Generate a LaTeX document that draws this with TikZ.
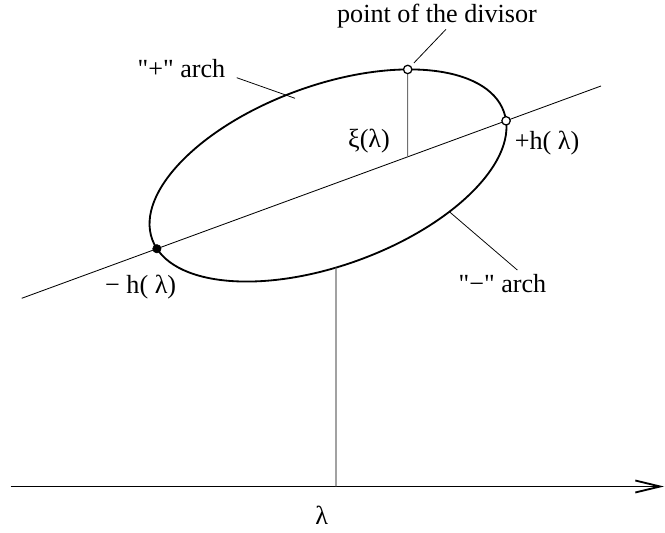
\documentclass[tikz,border=0pt]{standalone}
\usepackage{fontspec}
\setmainfont{Liberation Serif}
\newfontfamily\archfont{Liberation Serif}
\usepackage{xcolor}
\usepackage{tikz}
\usetikzlibrary{arrows.meta,intersections,calc}
\definecolor{ArchInk}{HTML}{000000}
\definecolor{ArchGray}{HTML}{707070}
\tikzset{archcurve/.style={draw=ArchInk, line width=1.3pt}, archchord/.style={draw=ArchInk, line width=0.6pt}, archleader/.style={draw=ArchInk, line width=0.55pt}, archdrop/.style={draw=ArchGray, line width=0.75pt}, archaxis/.style={draw=ArchInk, line width=1.3pt, -{Straight Barb[length=6.2mm,width=3mm]}}, archopen/.style={circle, draw=ArchInk, fill=white, line width=0.9pt, inner sep=0pt, minimum size=2.1mm}, archfull/.style={circle, draw=ArchInk, fill=ArchInk, inner sep=0pt, minimum size=2.1mm}, archlabel/.style={inner sep=0pt, font=\archfont\fontsize{18.6}{22}\selectfont}}

\begin{document}
\begin{tikzpicture}[x=0.025cm, y=0.025cm]
\useasboundingbox (0,0) rectangle (665,533);
\coordinate (c) at (328,357.5);
\coordinate (chordL) at (21.7,234.7);
\coordinate (chordR) at (601,447);
\coordinate (axstart) at (10.6,46.5);
\coordinate (axend) at (664,46.5);
\coordinate (lamfoot) at (336,46.5);
\draw[archchord, name path=chord] (chordL) -- (chordR);
\draw[archcurve, name path=ell, rotate around={20:(c)}] (c) ellipse [x radius=4.675cm, y radius=2.25cm];
\path[name path=vtop] (407.7,350) -- (407.7,533);
\path[name path=vbot] (336,46.5) -- (336,300);
\path[name intersections={of=ell and vtop, by=ptop}];
\path[name intersections={of=chord and vtop, by=pfoot}];
\path[name intersections={of=ell and vbot, by=pbot}];
\path[name intersections={of=ell and chord, sort by=chord, by={hm,hp}}];
\draw[archaxis] (axstart) -- (axend);
\draw[archdrop] (ptop) -- (pfoot);
\draw[archdrop] (pbot) -- (lamfoot);
\node[archopen] (divpt) at (ptop) {};
\node[archopen] (hplus) at (hp) {};
\node[archfull] (hminus) at (hm) {};
\node[archlabel, anchor=base] (divlbl) at (437,510.3) {point of the divisor};
\node[archlabel, anchor=base] (plusarch) at (181.5,455) {"+" arch};
\node[archlabel] (xilbl) at (369,391.5) {ξ(λ)};
\node[archlabel] (hplbl) at (547,390) {+h( λ)};
\node[archlabel] (hmlbl) at (140.7,246.3) {− h( λ)};
\node[archlabel, anchor=base] (minusarch) at (502.5,240) {"−" arch};
\node[archlabel, anchor=base] (lamlbl) at (321.7,8) {λ};
\coordinate (divtail) at (446,503.7);
\coordinate (plustail) at (236.7,455.3);
\coordinate (plustip) at (295,434.7);
\coordinate (minustail) at (517.3,263);
\coordinate (minustip) at (449.3,321.3);
\draw[archleader, shorten >=0.1cm] (divtail) -- (divpt);
\draw[archleader] (plustail) -- (plustip);
\draw[archleader] (minustail) -- (minustip);
\end{tikzpicture}
\end{document}
